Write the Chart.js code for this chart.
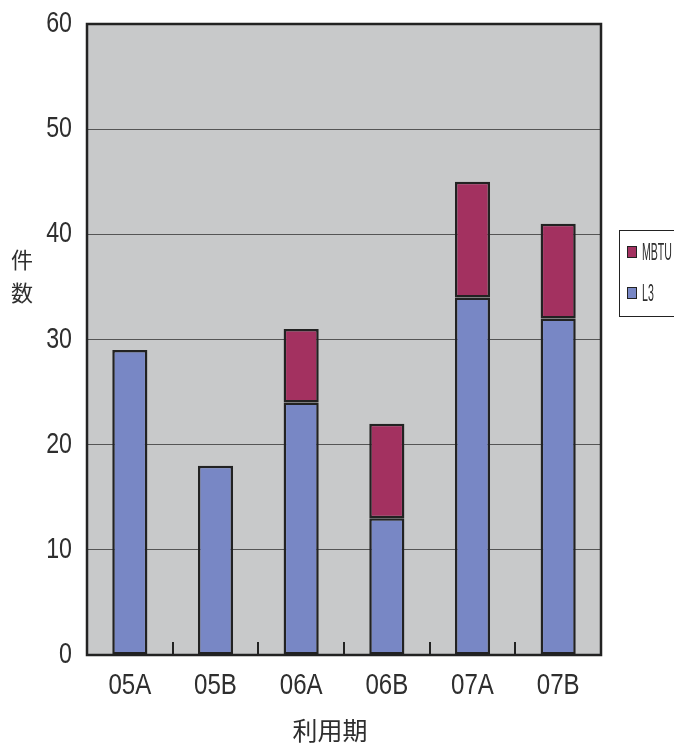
<!DOCTYPE html>
<html>
<head>
<meta charset="utf-8">
<script src="https://cdn.jsdelivr.net/npm/chart.js"></script>
<style>
    html, body { margin: 0; padding: 0; background: #fff; }
</style>
</head>
<body>
<canvas id="myChart" width="674" height="744"></canvas>
<script>
// data
const periods = ["05A", "05B", "06A", "06B", "07A", "07B"];
const l3Counts = [29, 18, 24, 13, 34, 32];
const mbtuCounts = [null, null, 7, 9, 11, 9];
const yMin = 0, yMax = 60, yStep = 10;

const BLUE = "#7887c5";
const MAROON = "#a33160";
const INK = "#222";
const TXT = "#2e2e2e";
const FONT = "'Liberation Sans', Arial, sans-serif";
const CJK = "'Noto Sans CJK JP', 'Noto Sans CJK SC', sans-serif";

// the original uses a narrow light face; squeeze Liberation Sans sideways
function narrowText(ctx, text, x, y, size, squeeze, align) {
    ctx.save();
    ctx.translate(x, y);
    ctx.scale(squeeze, 1);
    ctx.font = size + "px " + FONT;
    ctx.textAlign = align;
    ctx.textBaseline = "middle";
    ctx.fillText(text, 0, 0);
    ctx.restore();
}

// gray plot background + frame + inner x ticks + labels + titles + legend
const decor = {
    id: "decor",
    beforeDraw(chart) {
        const { ctx, chartArea: a } = chart;
        ctx.save();
        ctx.fillStyle = "#c8c9ca";
        ctx.fillRect(a.left, a.top, a.right - a.left, a.bottom - a.top);
        ctx.restore();
    },
    afterDatasetsDraw(chart) {
        const { ctx, chartArea: a, scales } = chart;
        ctx.save();
        ctx.strokeStyle = INK;
        ctx.lineWidth = 2.5;
        ctx.strokeRect(a.left, a.top, a.right - a.left, a.bottom - a.top);

        // little ticks between categories, pointing up
        ctx.lineWidth = 2;
        for (let i = 0; i < periods.length - 1; i++) {
            const x = Math.round((scales.x.getPixelForValue(i) + scales.x.getPixelForValue(i + 1)) / 2);
            ctx.beginPath();
            ctx.moveTo(x, a.bottom);
            ctx.lineTo(x, a.bottom - 13);
            ctx.stroke();
        }
        ctx.restore();
    },
    afterDraw(chart) {
        const { ctx, chartArea: a, scales } = chart;
        ctx.save();
        ctx.fillStyle = TXT;

        // tick labels, placed by the scales
        scales.y.ticks.forEach((t) => {
            narrowText(ctx, String(t.value), a.left - 15, scales.y.getPixelForValue(t.value), 29, 0.8, "right");
        });
        scales.x.getLabels().forEach((lab, i) => {
            narrowText(ctx, lab, scales.x.getPixelForValue(i), a.bottom + 31, 29, 0.83, "center");
        });

        ctx.textAlign = "center";
        ctx.textBaseline = "middle";
        ctx.font = "22px " + CJK;
        ctx.fillText("件", 22, 260);
        ctx.fillText("数", 22, 293);
        ctx.font = "25px " + CJK;
        ctx.fillText("利用期", 330, 730);

        // legend box
        ctx.strokeStyle = INK;
        ctx.lineWidth = 1;
        ctx.strokeRect(619.5, 230.5, 70, 86);
        const items = [
            { label: "MBTU", color: MAROON, y: 252 },
            { label: "L3", color: BLUE, y: 293 },
        ];
        items.forEach((it) => {
            ctx.fillStyle = it.color;
            ctx.fillRect(627, it.y - 6, 10, 12);
            ctx.strokeRect(627.5, it.y - 5.5, 9, 11);
            ctx.fillStyle = TXT;
            narrowText(ctx, it.label, 642, it.y + 2, 23, 0.46, "left");
        });
        ctx.restore();
    },
};

const config = {
    type: "bar",
    data: {
        labels: periods,
        datasets: [
            {
                label: "L3",
                data: l3Counts,
                backgroundColor: BLUE,
                borderColor: INK,
                borderWidth: 2.5,
                borderSkipped: false,
            },
            {
                label: "MBTU",
                data: mbtuCounts,
                backgroundColor: MAROON,
                borderColor: INK,
                borderWidth: 2.5,
                borderSkipped: false,
            },
        ],
    },
    options: {
        responsive: false,
        animation: false,
        layout: { padding: { top: 24, right: 73, left: 0, bottom: 0 } },
        datasets: { bar: { categoryPercentage: 1, barPercentage: 0.41 } },
        plugins: { legend: { display: false }, tooltip: { enabled: false } },
        scales: {
            x: {
                stacked: true,
                grid: { display: false },
                border: { display: false },
                ticks: { display: false },
                afterFit(scale) { scale.height = 89; },
            },
            y: {
                stacked: true,
                min: yMin,
                max: yMax,
                grid: { color: "#555", lineWidth: 1, drawTicks: false },
                border: { display: false },
                ticks: { stepSize: yStep, display: false },
                afterFit(scale) { scale.width = 87; },
            },
        },
    },
    plugins: [decor],
};

const myChart = new Chart(document.getElementById("myChart"), config);
</script>
</body>
</html>
